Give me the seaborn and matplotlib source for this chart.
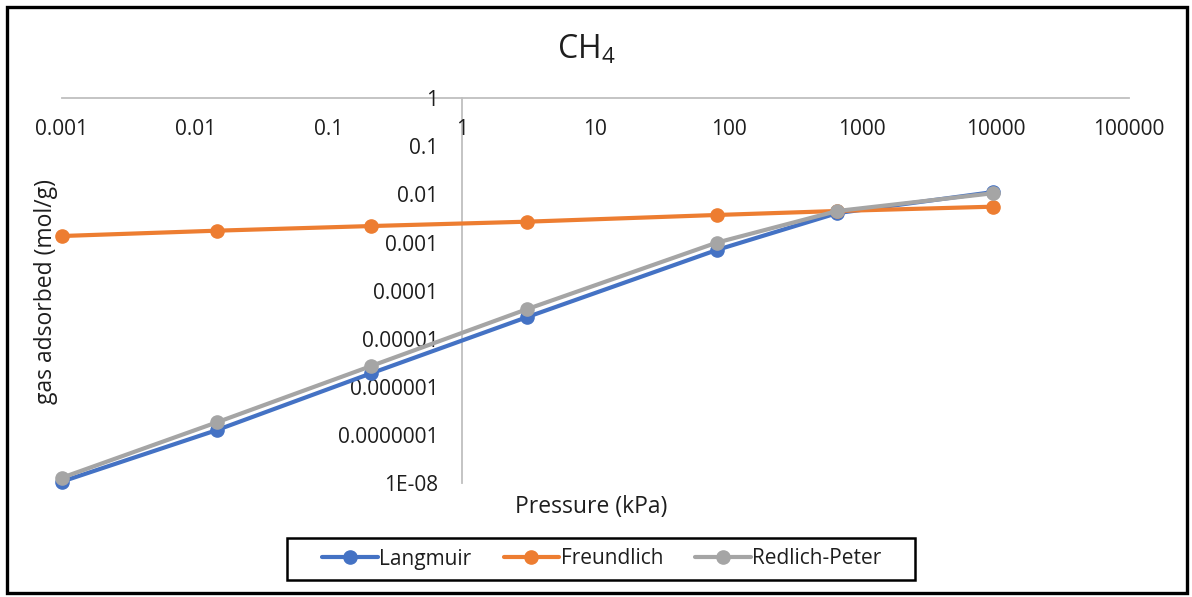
import numpy as np
import pandas as pd
import matplotlib
matplotlib.use("Agg")
import matplotlib.pyplot as plt
from matplotlib.patches import Rectangle
import seaborn as sns

# ---- data ----
pressure = [0.001, 0.0146, 0.209, 3.05, 81.0, 650.0, 9500.0]
langmuir = [1.07e-8, 1.27e-7, 1.92e-6, 2.8e-5, 7.0e-4, 4.1e-3, 1.12e-2]
freundlich = [1.37e-3, 1.77e-3, 2.21e-3, 2.72e-3, 3.75e-3, 4.54e-3, 5.58e-3]
redlich_peter = [1.29e-8, 1.84e-7, 2.72e-6, 4.1e-5, 9.95e-4, 4.54e-3, 1.06e-2]

series_names = ["Langmuir", "Freundlich", "Redlich-Peter"]
series_colors = ["#4472C4", "#ED7D31", "#A5A5A5"]

x_ticks = [1e-3, 1e-2, 1e-1, 1e0, 1e1, 1e2, 1e3, 1e4, 1e5]
x_ticklabels = ["0.001", "0.01", "0.1", "1", "10", "100", "1000", "10000", "100000"]
y_ticks = [1e0, 1e-1, 1e-2, 1e-3, 1e-4, 1e-5, 1e-6, 1e-7, 1e-8]
y_ticklabels = ["1", "0.1", "0.01", "0.001", "0.0001", "0.00001", "0.000001",
                "0.0000001", "1E-08"]

title = "CH$_4$"
x_label = "Pressure (kPa)"
y_label = "gas adsorbed (mol/g)"

# ---- style ----
sns.set_style("white")
FONT = "Open Sans"
plt.rcParams["font.family"] = [FONT, "DejaVu Sans"]
plt.rcParams["mathtext.fontset"] = "custom"
plt.rcParams["mathtext.rm"] = FONT
plt.rcParams["mathtext.default"] = "regular"
TXT = "#1e1e1e"

W, H = 1192, 597
fig = plt.figure(figsize=(W / 100, H / 100), dpi=100)
fig.patch.set_facecolor("white")

left_px, right_px = 61.7, 1129.0
top_px, bottom_px = 98.3, 483.1
ax = fig.add_axes([left_px / W, 1 - bottom_px / H,
                   (right_px - left_px) / W, (bottom_px - top_px) / H])
ax.set_facecolor("white")

series_values = [langmuir, freundlich, redlich_peter]
handles = []
for name, vals, col in zip(series_names, series_values, series_colors):
    df = pd.DataFrame({"Pressure": pressure, "Value": vals})
    sns.lineplot(data=df, x="Pressure", y="Value", ax=ax, color=col,
                 linewidth=3.0, marker="o", markersize=9.5,
                 markeredgecolor=col, markeredgewidth=1, sort=False,
                 estimator=None, label=name, legend=False)
    line = ax.get_lines()[-1]
    line.set_clip_on(False)
    handles.append(line)

ax.set_xscale("log")
ax.set_yscale("log")
ax.set_xlim(1e-3, 1e5)
ax.set_ylim(1e-8, 1)
ax.set_xticks(x_ticks)
ax.set_xticklabels(x_ticklabels)
ax.set_yticks(y_ticks)
ax.set_yticklabels(y_ticklabels)
ax.minorticks_off()
ax.set_xlabel("")
ax.set_ylabel("")

spine_col = "#BFBFBF"
ax.spines["top"].set_visible(False)
ax.spines["right"].set_visible(False)
ax.spines["bottom"].set_position(("data", 1))
ax.spines["left"].set_position(("data", 1))
for s in ("bottom", "left"):
    ax.spines[s].set_color(spine_col)
    ax.spines[s].set_linewidth(1.3)
    ax.spines[s].set_zorder(0.5)

ax.tick_params(axis="x", length=0, pad=15, labelsize=15, colors=TXT)
ax.tick_params(axis="y", length=0, pad=17, labelsize=15, colors=TXT)
ax.grid(False)

# titles / axis labels
fig.text(586 / W, 1 - 50 / H, title, ha="center", va="center",
         fontsize=23, color=TXT)
fig.text(591 / W, 1 - 507 / H, x_label, ha="center", va="center",
         fontsize=16.5, color=TXT)
fig.text(46 / W, 1 - 291 / H, y_label, ha="center", va="center",
         rotation=90, fontsize=16.5, color=TXT)

leg = fig.legend(handles, series_names, loc="center",
                 bbox_to_anchor=(602 / W, 1 - 559 / H), ncol=3,
                 frameon=False, fontsize=15, handlelength=2.65,
                 handletextpad=0.08, columnspacing=1.55, borderpad=0.3)
for t in leg.get_texts():
    t.set_color(TXT)

# legend frame (Excel style: wide horizontal padding)
fig.patches.append(Rectangle((287 / W, 1 - 580 / H), (915 - 287) / W,
                             (580 - 538) / H, transform=fig.transFigure,
                             fill=False, edgecolor="black", linewidth=1.8,
                             zorder=10))

# outer chart border
fig.patches.append(Rectangle((7 / W, 4 / H), (1187 - 7) / W, (593 - 7) / H,
                             transform=fig.transFigure, fill=False,
                             edgecolor="black", linewidth=2.4, zorder=10))

fig.savefig("out.png", dpi=100, facecolor="white")
